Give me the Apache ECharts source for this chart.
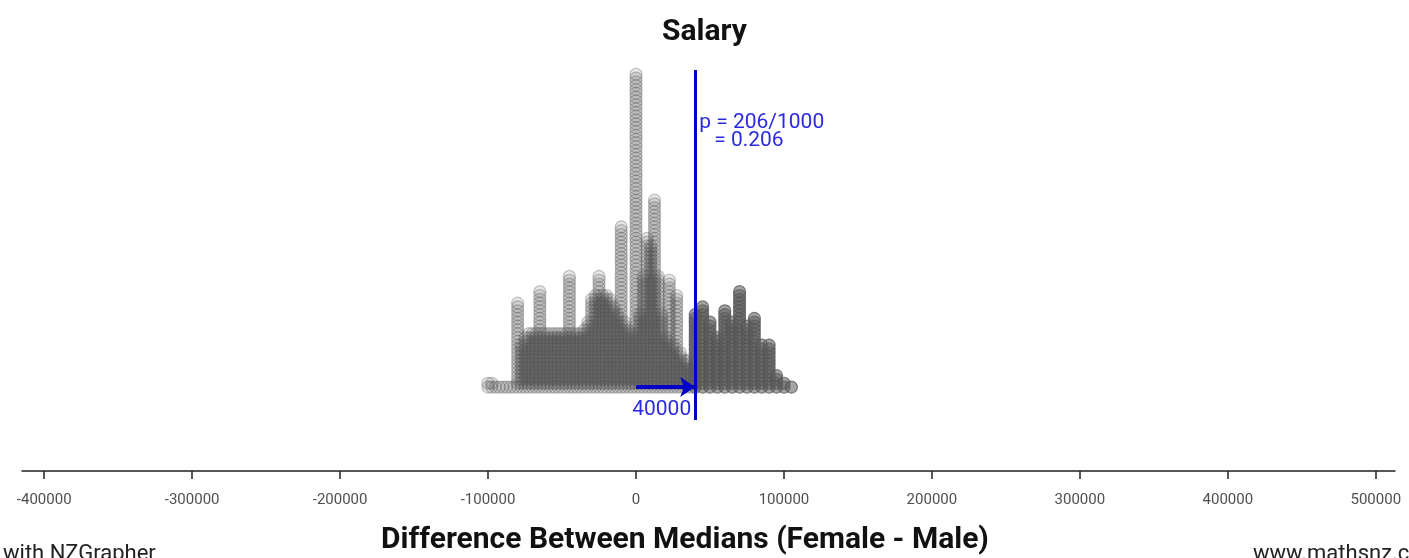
<!DOCTYPE html>
<html><head><meta charset="utf-8">
<script src="https://cdn.jsdelivr.net/npm/echarts@6/dist/echarts.min.js"></script>
<style>html,body{margin:0;padding:0;background:#fff}#c{width:1409px;height:558px}</style>
</head><body><div id="c"></div>
<script>
// ---- data ----
const chartTitle = 'Salary';
const axisTitle = 'Difference Between Medians (Female - Male)';
const tickValues = [-400000, -300000, -200000, -100000, 0, 100000, 200000, 300000, 400000, 500000];
const observedDiff = 40000;
const pLines = ['p = 206/1000', '= 0.206'];
const footerLeft = 'with NZGrapher';
const footerRight = 'www.mathsnz.com';

// re-randomised differences below the observed difference (value, number of dots)
const lowerDiffs = [-100000, -97500, -95000, -92500, -90000, -87500, -85000, -82500,
  -80000, -77500, -75000, -72500, -70000, -67500, -65000, -62500, -60000, -57500,
  -55000, -52500, -50000, -47500, -45000, -42500, -40000, -37500, -35000, -32500,
  -30000, -27500, -25000, -22500, -20000, -17500, -15000, -12500, -10000, -7500,
  -5000, -2500, 0, 2500, 5000, 7500, 10000, 12500, 15000, 17500, 20000, 22500,
  25000, 27500, 30000, 32500, 35000, 37500];
const lowerCounts = [2, 2, 1, 1, 1, 1, 1, 1,
  23, 12, 14, 15, 15, 15, 26, 15, 15, 15,
  15, 15, 15, 15, 30, 15, 15, 15, 16, 18,
  24, 25, 30, 25, 25, 24, 22, 20, 43, 18,
  16, 15, 83, 20, 30, 40, 38, 50, 30, 20, 14, 29,
  12, 25, 10, 8, 8, 6];
// re-randomised differences at or above the observed difference
const upperDiffs = [40000, 45000, 50000, 55000, 60000, 65000, 70000, 75000, 80000, 85000, 90000, 95000, 100000, 105000];
const upperCounts = [20, 22, 18, 14, 21, 18, 26, 17, 19, 12, 12, 4, 2, 1];

// ---- build ----
function stackDots(diffs, counts) {
  const pts = [];
  diffs.forEach((d, i) => { for (let k = 0; k < counts[i]; k++) pts.push([d, k]); });
  return pts;
}
const blue = '#0000c8';
const textBlue = '#2a2ae0';
const chart = echarts.init(document.getElementById('c'), null, {renderer: 'canvas'});
const option = {
  animation: false,
  backgroundColor: '#fff',
  title: {text: chartTitle, left: 'center', top: 12,
    textStyle: {fontFamily: 'Roboto', fontWeight: 'bold', fontSize: 30, color: '#111'}},
  grid: {left: 22, right: 14, top: 59, bottom: 87},
  xAxis: {
    type: 'value', min: -415000, max: 513000,
    axisLine: {show: true, onZero: false, lineStyle: {color: '#222', width: 1.5}},
    axisTick: {show: true, customValues: tickValues, length: 8, lineStyle: {color: '#222', width: 1.5}},
    axisLabel: {customValues: tickValues, margin: 22, fontFamily: 'Roboto', fontSize: 15, color: '#505050',
      formatter: v => String(v)},
    splitLine: {show: false}
  },
  yAxis: {type: 'value', min: -22, max: 86, show: false},
  series: [
    {type: 'scatter', silent: true, symbol: 'circle', symbolSize: 12, z: 2,
      data: stackDots(lowerDiffs, lowerCounts),
      itemStyle: {color: 'rgba(70,70,70,0.17)', borderColor: 'rgba(90,90,90,0.42)', borderWidth: 1.2}},
    {type: 'scatter', silent: true, symbol: 'circle', symbolSize: 12, z: 3,
      data: stackDots(upperDiffs, upperCounts),
      itemStyle: {color: 'rgba(95,95,95,0.7)', borderColor: 'rgba(85,85,85,0.9)', borderWidth: 1.2},
      markLine: {silent: true, symbol: 'none', label: {show: false}, animation: false,
        lineStyle: {color: blue, width: 3, type: 'solid'},
        data: [[{coord: [observedDiff, -8.6]}, {coord: [observedDiff, 83.1]}]]}},
    {type: 'line', silent: true, data: [], z: 5,
      markLine: {silent: true, symbol: 'none', label: {show: false}, animation: false,
        lineStyle: {color: blue, width: 4, type: 'solid'},
        data: [[{coord: [0, 0], symbol: 'none'}, {coord: [observedDiff, 0], symbol: 'arrow', symbolSize: 15}]]}}
  ]
};
chart.setOption(option);
const pObs = chart.convertToPixel({gridIndex: 0}, [observedDiff, 0]);
const pTop = chart.convertToPixel({gridIndex: 0}, [observedDiff, 83.1]);
chart.setOption({
  graphic: [
    {type: 'text', left: pObs[0] + 4, top: pTop[1] + 42,
      style: {text: pLines[0], fontFamily: 'Roboto', fontSize: 21, fill: textBlue}},
    {type: 'text', left: pObs[0] + 19, top: pTop[1] + 60,
      style: {text: pLines[1], fontFamily: 'Roboto', fontSize: 21, fill: textBlue}},
    {type: 'text', x: pObs[0] - 4, y: pObs[1] + 23,
      style: {text: String(observedDiff), fontFamily: 'Roboto', fontSize: 21, fill: textBlue, align: 'right', verticalAlign: 'middle'}},
    {type: 'text', x: 685, y: 540,
      style: {text: axisTitle, fontFamily: 'Roboto', fontWeight: 'bold', fontSize: 30, fill: '#111', align: 'center', verticalAlign: 'middle'}},
    {type: 'text', x: 3, y: 554,
      style: {text: footerLeft, fontFamily: 'Roboto', fontSize: 22, fill: '#222', verticalAlign: 'middle'}},
    {type: 'text', x: 1253, y: 554,
      style: {text: footerRight, fontFamily: 'Roboto', fontSize: 22, fill: '#222', verticalAlign: 'middle'}}
  ]
});
</script></body></html>
